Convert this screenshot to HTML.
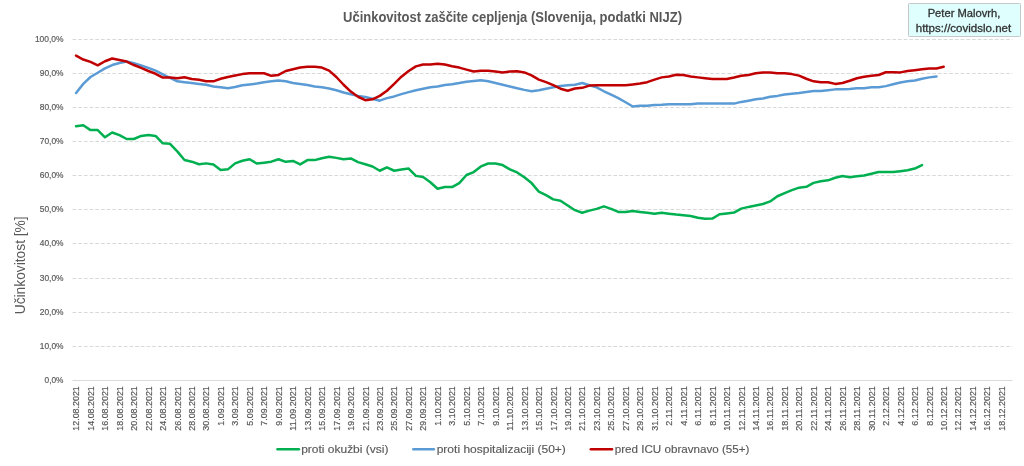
<!DOCTYPE html><html><head><meta charset="utf-8"><style>html,body{margin:0;padding:0;background:#fff;width:1024px;height:466px;overflow:hidden}svg{display:block;will-change:transform}text{font-family:"Liberation Sans",sans-serif}</style></head><body>
<svg width="1024" height="466" viewBox="0 0 1024 466">
<rect width="1024" height="466" fill="#fff"/>
<line x1="72.5" y1="39.5" x2="1012.5" y2="39.5" stroke="#d9d9d9" stroke-width="1" stroke-dasharray="3.75 1.943"/>
<line x1="72.5" y1="73.5" x2="1012.5" y2="73.5" stroke="#d9d9d9" stroke-width="1" stroke-dasharray="3.75 1.943"/>
<line x1="72.5" y1="107.5" x2="1012.5" y2="107.5" stroke="#d9d9d9" stroke-width="1" stroke-dasharray="3.75 1.943"/>
<line x1="72.5" y1="141.5" x2="1012.5" y2="141.5" stroke="#d9d9d9" stroke-width="1" stroke-dasharray="3.75 1.943"/>
<line x1="72.5" y1="175.5" x2="1012.5" y2="175.5" stroke="#d9d9d9" stroke-width="1" stroke-dasharray="3.75 1.943"/>
<line x1="72.5" y1="209.5" x2="1012.5" y2="209.5" stroke="#d9d9d9" stroke-width="1" stroke-dasharray="3.75 1.943"/>
<line x1="72.5" y1="243.5" x2="1012.5" y2="243.5" stroke="#d9d9d9" stroke-width="1" stroke-dasharray="3.75 1.943"/>
<line x1="72.5" y1="278.5" x2="1012.5" y2="278.5" stroke="#d9d9d9" stroke-width="1" stroke-dasharray="3.75 1.943"/>
<line x1="72.5" y1="312.5" x2="1012.5" y2="312.5" stroke="#d9d9d9" stroke-width="1" stroke-dasharray="3.75 1.943"/>
<line x1="72.5" y1="346.5" x2="1012.5" y2="346.5" stroke="#d9d9d9" stroke-width="1" stroke-dasharray="3.75 1.943"/>
<line x1="72.5" y1="380.5" x2="1012.5" y2="380.5" stroke="#d9d9d9" stroke-width="1"/>
<text x="63.5" y="383.1" font-size="9.7" fill="#595959" stroke="#595959" stroke-width="0.2" text-anchor="end" textLength="18.90" lengthAdjust="spacingAndGlyphs">0,0%</text>
<text x="63.5" y="349.1" font-size="9.7" fill="#595959" stroke="#595959" stroke-width="0.2" text-anchor="end" textLength="23.74" lengthAdjust="spacingAndGlyphs">10,0%</text>
<text x="63.5" y="315.1" font-size="9.7" fill="#595959" stroke="#595959" stroke-width="0.2" text-anchor="end" textLength="23.74" lengthAdjust="spacingAndGlyphs">20,0%</text>
<text x="63.5" y="281.1" font-size="9.7" fill="#595959" stroke="#595959" stroke-width="0.2" text-anchor="end" textLength="23.74" lengthAdjust="spacingAndGlyphs">30,0%</text>
<text x="63.5" y="246.1" font-size="9.7" fill="#595959" stroke="#595959" stroke-width="0.2" text-anchor="end" textLength="23.74" lengthAdjust="spacingAndGlyphs">40,0%</text>
<text x="63.5" y="212.1" font-size="9.7" fill="#595959" stroke="#595959" stroke-width="0.2" text-anchor="end" textLength="23.74" lengthAdjust="spacingAndGlyphs">50,0%</text>
<text x="63.5" y="178.1" font-size="9.7" fill="#595959" stroke="#595959" stroke-width="0.2" text-anchor="end" textLength="23.74" lengthAdjust="spacingAndGlyphs">60,0%</text>
<text x="63.5" y="144.1" font-size="9.7" fill="#595959" stroke="#595959" stroke-width="0.2" text-anchor="end" textLength="23.74" lengthAdjust="spacingAndGlyphs">70,0%</text>
<text x="63.5" y="110.1" font-size="9.7" fill="#595959" stroke="#595959" stroke-width="0.2" text-anchor="end" textLength="23.74" lengthAdjust="spacingAndGlyphs">80,0%</text>
<text x="63.5" y="76.1" font-size="9.7" fill="#595959" stroke="#595959" stroke-width="0.2" text-anchor="end" textLength="23.74" lengthAdjust="spacingAndGlyphs">90,0%</text>
<text x="63.5" y="42.1" font-size="9.7" fill="#595959" stroke="#595959" stroke-width="0.2" text-anchor="end" textLength="28.58" lengthAdjust="spacingAndGlyphs">100,0%</text>
<text transform="translate(79.35,386.2) rotate(-90)" font-size="9.2" fill="#595959" stroke="#595959" stroke-width="0.2" text-anchor="end" textLength="44.5" lengthAdjust="spacingAndGlyphs">12.08.2021</text>
<text transform="translate(93.81,386.2) rotate(-90)" font-size="9.2" fill="#595959" stroke="#595959" stroke-width="0.2" text-anchor="end" textLength="44.5" lengthAdjust="spacingAndGlyphs">14.08.2021</text>
<text transform="translate(108.27,386.2) rotate(-90)" font-size="9.2" fill="#595959" stroke="#595959" stroke-width="0.2" text-anchor="end" textLength="44.5" lengthAdjust="spacingAndGlyphs">16.08.2021</text>
<text transform="translate(122.73,386.2) rotate(-90)" font-size="9.2" fill="#595959" stroke="#595959" stroke-width="0.2" text-anchor="end" textLength="44.5" lengthAdjust="spacingAndGlyphs">18.08.2021</text>
<text transform="translate(137.19,386.2) rotate(-90)" font-size="9.2" fill="#595959" stroke="#595959" stroke-width="0.2" text-anchor="end" textLength="44.5" lengthAdjust="spacingAndGlyphs">20.08.2021</text>
<text transform="translate(151.65,386.2) rotate(-90)" font-size="9.2" fill="#595959" stroke="#595959" stroke-width="0.2" text-anchor="end" textLength="44.5" lengthAdjust="spacingAndGlyphs">22.08.2021</text>
<text transform="translate(166.11,386.2) rotate(-90)" font-size="9.2" fill="#595959" stroke="#595959" stroke-width="0.2" text-anchor="end" textLength="44.5" lengthAdjust="spacingAndGlyphs">24.08.2021</text>
<text transform="translate(180.57,386.2) rotate(-90)" font-size="9.2" fill="#595959" stroke="#595959" stroke-width="0.2" text-anchor="end" textLength="44.5" lengthAdjust="spacingAndGlyphs">26.08.2021</text>
<text transform="translate(195.03,386.2) rotate(-90)" font-size="9.2" fill="#595959" stroke="#595959" stroke-width="0.2" text-anchor="end" textLength="44.5" lengthAdjust="spacingAndGlyphs">28.08.2021</text>
<text transform="translate(209.49,386.2) rotate(-90)" font-size="9.2" fill="#595959" stroke="#595959" stroke-width="0.2" text-anchor="end" textLength="44.5" lengthAdjust="spacingAndGlyphs">30.08.2021</text>
<text transform="translate(223.96,386.2) rotate(-90)" font-size="9.2" fill="#595959" stroke="#595959" stroke-width="0.2" text-anchor="end" textLength="39.5" lengthAdjust="spacingAndGlyphs">1.09.2021</text>
<text transform="translate(238.42,386.2) rotate(-90)" font-size="9.2" fill="#595959" stroke="#595959" stroke-width="0.2" text-anchor="end" textLength="39.5" lengthAdjust="spacingAndGlyphs">3.09.2021</text>
<text transform="translate(252.88,386.2) rotate(-90)" font-size="9.2" fill="#595959" stroke="#595959" stroke-width="0.2" text-anchor="end" textLength="39.5" lengthAdjust="spacingAndGlyphs">5.09.2021</text>
<text transform="translate(267.34,386.2) rotate(-90)" font-size="9.2" fill="#595959" stroke="#595959" stroke-width="0.2" text-anchor="end" textLength="39.5" lengthAdjust="spacingAndGlyphs">7.09.2021</text>
<text transform="translate(281.80,386.2) rotate(-90)" font-size="9.2" fill="#595959" stroke="#595959" stroke-width="0.2" text-anchor="end" textLength="39.5" lengthAdjust="spacingAndGlyphs">9.09.2021</text>
<text transform="translate(296.26,386.2) rotate(-90)" font-size="9.2" fill="#595959" stroke="#595959" stroke-width="0.2" text-anchor="end" textLength="44.5" lengthAdjust="spacingAndGlyphs">11.09.2021</text>
<text transform="translate(310.72,386.2) rotate(-90)" font-size="9.2" fill="#595959" stroke="#595959" stroke-width="0.2" text-anchor="end" textLength="44.5" lengthAdjust="spacingAndGlyphs">13.09.2021</text>
<text transform="translate(325.18,386.2) rotate(-90)" font-size="9.2" fill="#595959" stroke="#595959" stroke-width="0.2" text-anchor="end" textLength="44.5" lengthAdjust="spacingAndGlyphs">15.09.2021</text>
<text transform="translate(339.64,386.2) rotate(-90)" font-size="9.2" fill="#595959" stroke="#595959" stroke-width="0.2" text-anchor="end" textLength="44.5" lengthAdjust="spacingAndGlyphs">17.09.2021</text>
<text transform="translate(354.10,386.2) rotate(-90)" font-size="9.2" fill="#595959" stroke="#595959" stroke-width="0.2" text-anchor="end" textLength="44.5" lengthAdjust="spacingAndGlyphs">19.09.2021</text>
<text transform="translate(368.57,386.2) rotate(-90)" font-size="9.2" fill="#595959" stroke="#595959" stroke-width="0.2" text-anchor="end" textLength="44.5" lengthAdjust="spacingAndGlyphs">21.09.2021</text>
<text transform="translate(383.03,386.2) rotate(-90)" font-size="9.2" fill="#595959" stroke="#595959" stroke-width="0.2" text-anchor="end" textLength="44.5" lengthAdjust="spacingAndGlyphs">23.09.2021</text>
<text transform="translate(397.49,386.2) rotate(-90)" font-size="9.2" fill="#595959" stroke="#595959" stroke-width="0.2" text-anchor="end" textLength="44.5" lengthAdjust="spacingAndGlyphs">25.09.2021</text>
<text transform="translate(411.95,386.2) rotate(-90)" font-size="9.2" fill="#595959" stroke="#595959" stroke-width="0.2" text-anchor="end" textLength="44.5" lengthAdjust="spacingAndGlyphs">27.09.2021</text>
<text transform="translate(426.41,386.2) rotate(-90)" font-size="9.2" fill="#595959" stroke="#595959" stroke-width="0.2" text-anchor="end" textLength="44.5" lengthAdjust="spacingAndGlyphs">29.09.2021</text>
<text transform="translate(440.87,386.2) rotate(-90)" font-size="9.2" fill="#595959" stroke="#595959" stroke-width="0.2" text-anchor="end" textLength="39.5" lengthAdjust="spacingAndGlyphs">1.10.2021</text>
<text transform="translate(455.33,386.2) rotate(-90)" font-size="9.2" fill="#595959" stroke="#595959" stroke-width="0.2" text-anchor="end" textLength="39.5" lengthAdjust="spacingAndGlyphs">3.10.2021</text>
<text transform="translate(469.79,386.2) rotate(-90)" font-size="9.2" fill="#595959" stroke="#595959" stroke-width="0.2" text-anchor="end" textLength="39.5" lengthAdjust="spacingAndGlyphs">5.10.2021</text>
<text transform="translate(484.25,386.2) rotate(-90)" font-size="9.2" fill="#595959" stroke="#595959" stroke-width="0.2" text-anchor="end" textLength="39.5" lengthAdjust="spacingAndGlyphs">7.10.2021</text>
<text transform="translate(498.71,386.2) rotate(-90)" font-size="9.2" fill="#595959" stroke="#595959" stroke-width="0.2" text-anchor="end" textLength="39.5" lengthAdjust="spacingAndGlyphs">9.10.2021</text>
<text transform="translate(513.18,386.2) rotate(-90)" font-size="9.2" fill="#595959" stroke="#595959" stroke-width="0.2" text-anchor="end" textLength="44.5" lengthAdjust="spacingAndGlyphs">11.10.2021</text>
<text transform="translate(527.64,386.2) rotate(-90)" font-size="9.2" fill="#595959" stroke="#595959" stroke-width="0.2" text-anchor="end" textLength="44.5" lengthAdjust="spacingAndGlyphs">13.10.2021</text>
<text transform="translate(542.10,386.2) rotate(-90)" font-size="9.2" fill="#595959" stroke="#595959" stroke-width="0.2" text-anchor="end" textLength="44.5" lengthAdjust="spacingAndGlyphs">15.10.2021</text>
<text transform="translate(556.56,386.2) rotate(-90)" font-size="9.2" fill="#595959" stroke="#595959" stroke-width="0.2" text-anchor="end" textLength="44.5" lengthAdjust="spacingAndGlyphs">17.10.2021</text>
<text transform="translate(571.02,386.2) rotate(-90)" font-size="9.2" fill="#595959" stroke="#595959" stroke-width="0.2" text-anchor="end" textLength="44.5" lengthAdjust="spacingAndGlyphs">19.10.2021</text>
<text transform="translate(585.48,386.2) rotate(-90)" font-size="9.2" fill="#595959" stroke="#595959" stroke-width="0.2" text-anchor="end" textLength="44.5" lengthAdjust="spacingAndGlyphs">21.10.2021</text>
<text transform="translate(599.94,386.2) rotate(-90)" font-size="9.2" fill="#595959" stroke="#595959" stroke-width="0.2" text-anchor="end" textLength="44.5" lengthAdjust="spacingAndGlyphs">23.10.2021</text>
<text transform="translate(614.40,386.2) rotate(-90)" font-size="9.2" fill="#595959" stroke="#595959" stroke-width="0.2" text-anchor="end" textLength="44.5" lengthAdjust="spacingAndGlyphs">25.10.2021</text>
<text transform="translate(628.86,386.2) rotate(-90)" font-size="9.2" fill="#595959" stroke="#595959" stroke-width="0.2" text-anchor="end" textLength="44.5" lengthAdjust="spacingAndGlyphs">27.10.2021</text>
<text transform="translate(643.32,386.2) rotate(-90)" font-size="9.2" fill="#595959" stroke="#595959" stroke-width="0.2" text-anchor="end" textLength="44.5" lengthAdjust="spacingAndGlyphs">29.10.2021</text>
<text transform="translate(657.79,386.2) rotate(-90)" font-size="9.2" fill="#595959" stroke="#595959" stroke-width="0.2" text-anchor="end" textLength="44.5" lengthAdjust="spacingAndGlyphs">31.10.2021</text>
<text transform="translate(672.25,386.2) rotate(-90)" font-size="9.2" fill="#595959" stroke="#595959" stroke-width="0.2" text-anchor="end" textLength="39.5" lengthAdjust="spacingAndGlyphs">2.11.2021</text>
<text transform="translate(686.71,386.2) rotate(-90)" font-size="9.2" fill="#595959" stroke="#595959" stroke-width="0.2" text-anchor="end" textLength="39.5" lengthAdjust="spacingAndGlyphs">4.11.2021</text>
<text transform="translate(701.17,386.2) rotate(-90)" font-size="9.2" fill="#595959" stroke="#595959" stroke-width="0.2" text-anchor="end" textLength="39.5" lengthAdjust="spacingAndGlyphs">6.11.2021</text>
<text transform="translate(715.63,386.2) rotate(-90)" font-size="9.2" fill="#595959" stroke="#595959" stroke-width="0.2" text-anchor="end" textLength="39.5" lengthAdjust="spacingAndGlyphs">8.11.2021</text>
<text transform="translate(730.09,386.2) rotate(-90)" font-size="9.2" fill="#595959" stroke="#595959" stroke-width="0.2" text-anchor="end" textLength="44.5" lengthAdjust="spacingAndGlyphs">10.11.2021</text>
<text transform="translate(744.55,386.2) rotate(-90)" font-size="9.2" fill="#595959" stroke="#595959" stroke-width="0.2" text-anchor="end" textLength="44.5" lengthAdjust="spacingAndGlyphs">12.11.2021</text>
<text transform="translate(759.01,386.2) rotate(-90)" font-size="9.2" fill="#595959" stroke="#595959" stroke-width="0.2" text-anchor="end" textLength="44.5" lengthAdjust="spacingAndGlyphs">14.11.2021</text>
<text transform="translate(773.47,386.2) rotate(-90)" font-size="9.2" fill="#595959" stroke="#595959" stroke-width="0.2" text-anchor="end" textLength="44.5" lengthAdjust="spacingAndGlyphs">16.11.2021</text>
<text transform="translate(787.93,386.2) rotate(-90)" font-size="9.2" fill="#595959" stroke="#595959" stroke-width="0.2" text-anchor="end" textLength="44.5" lengthAdjust="spacingAndGlyphs">18.11.2021</text>
<text transform="translate(802.40,386.2) rotate(-90)" font-size="9.2" fill="#595959" stroke="#595959" stroke-width="0.2" text-anchor="end" textLength="44.5" lengthAdjust="spacingAndGlyphs">20.11.2021</text>
<text transform="translate(816.86,386.2) rotate(-90)" font-size="9.2" fill="#595959" stroke="#595959" stroke-width="0.2" text-anchor="end" textLength="44.5" lengthAdjust="spacingAndGlyphs">22.11.2021</text>
<text transform="translate(831.32,386.2) rotate(-90)" font-size="9.2" fill="#595959" stroke="#595959" stroke-width="0.2" text-anchor="end" textLength="44.5" lengthAdjust="spacingAndGlyphs">24.11.2021</text>
<text transform="translate(845.78,386.2) rotate(-90)" font-size="9.2" fill="#595959" stroke="#595959" stroke-width="0.2" text-anchor="end" textLength="44.5" lengthAdjust="spacingAndGlyphs">26.11.2021</text>
<text transform="translate(860.24,386.2) rotate(-90)" font-size="9.2" fill="#595959" stroke="#595959" stroke-width="0.2" text-anchor="end" textLength="44.5" lengthAdjust="spacingAndGlyphs">28.11.2021</text>
<text transform="translate(874.70,386.2) rotate(-90)" font-size="9.2" fill="#595959" stroke="#595959" stroke-width="0.2" text-anchor="end" textLength="44.5" lengthAdjust="spacingAndGlyphs">30.11.2021</text>
<text transform="translate(889.16,386.2) rotate(-90)" font-size="9.2" fill="#595959" stroke="#595959" stroke-width="0.2" text-anchor="end" textLength="39.5" lengthAdjust="spacingAndGlyphs">2.12.2021</text>
<text transform="translate(903.62,386.2) rotate(-90)" font-size="9.2" fill="#595959" stroke="#595959" stroke-width="0.2" text-anchor="end" textLength="39.5" lengthAdjust="spacingAndGlyphs">4.12.2021</text>
<text transform="translate(918.08,386.2) rotate(-90)" font-size="9.2" fill="#595959" stroke="#595959" stroke-width="0.2" text-anchor="end" textLength="39.5" lengthAdjust="spacingAndGlyphs">6.12.2021</text>
<text transform="translate(932.54,386.2) rotate(-90)" font-size="9.2" fill="#595959" stroke="#595959" stroke-width="0.2" text-anchor="end" textLength="39.5" lengthAdjust="spacingAndGlyphs">8.12.2021</text>
<text transform="translate(947.01,386.2) rotate(-90)" font-size="9.2" fill="#595959" stroke="#595959" stroke-width="0.2" text-anchor="end" textLength="44.5" lengthAdjust="spacingAndGlyphs">10.12.2021</text>
<text transform="translate(961.47,386.2) rotate(-90)" font-size="9.2" fill="#595959" stroke="#595959" stroke-width="0.2" text-anchor="end" textLength="44.5" lengthAdjust="spacingAndGlyphs">12.12.2021</text>
<text transform="translate(975.93,386.2) rotate(-90)" font-size="9.2" fill="#595959" stroke="#595959" stroke-width="0.2" text-anchor="end" textLength="44.5" lengthAdjust="spacingAndGlyphs">14.12.2021</text>
<text transform="translate(990.39,386.2) rotate(-90)" font-size="9.2" fill="#595959" stroke="#595959" stroke-width="0.2" text-anchor="end" textLength="44.5" lengthAdjust="spacingAndGlyphs">16.12.2021</text>
<text transform="translate(1004.85,386.2) rotate(-90)" font-size="9.2" fill="#595959" stroke="#595959" stroke-width="0.2" text-anchor="end" textLength="44.5" lengthAdjust="spacingAndGlyphs">18.12.2021</text>
<text transform="translate(25.2,265.3) rotate(-90)" font-size="14" fill="#595959" text-anchor="middle" textLength="98" lengthAdjust="spacingAndGlyphs">Učinkovitost [%]</text>
<text x="512.5" y="21.6" font-size="14.4" font-weight="bold" fill="#595959" text-anchor="middle" textLength="339" lengthAdjust="spacingAndGlyphs">Učinkovitost zaščite cepljenja (Slovenija, podatki NIJZ)</text>
<rect x="908.5" y="3.5" width="112" height="33" fill="#dfffff" stroke="#c8c8c8" stroke-width="1" rx="0.8"/>
<text x="964" y="16.7" font-size="10.6" fill="#333333" stroke="#333333" stroke-width="0.3" text-anchor="middle" textLength="72.7" lengthAdjust="spacingAndGlyphs">Peter Malovrh,</text>
<text x="963.5" y="31.7" font-size="10.6" fill="#333333" stroke="#333333" stroke-width="0.3" text-anchor="middle" textLength="95.5" lengthAdjust="spacingAndGlyphs">https://covidslo.net</text>
<polyline points="76.05,126.32 83.28,125.29 90.51,130.09 97.74,130.09 104.97,137.30 112.20,132.50 119.43,135.07 126.66,139.01 133.89,139.01 141.12,135.93 148.35,135.07 155.58,135.93 162.81,143.30 170.04,143.82 177.27,151.36 184.50,159.94 191.73,161.66 198.96,164.23 206.19,163.37 213.42,164.40 220.66,169.89 227.89,169.37 235.12,163.37 242.35,160.80 249.58,159.25 256.81,163.54 264.04,162.68 271.27,161.66 278.50,159.25 285.73,161.83 292.96,160.97 300.19,164.40 307.42,160.11 314.65,160.11 321.88,158.22 329.11,156.68 336.34,157.88 343.57,159.25 350.80,158.40 358.03,162.17 365.27,164.23 372.50,166.46 379.73,170.75 386.96,167.32 394.19,170.75 401.42,169.55 408.65,168.52 415.88,175.89 423.11,177.09 430.34,182.24 437.57,188.76 444.80,187.04 452.03,187.04 459.26,183.08 466.49,175.02 473.72,172.10 480.95,166.44 488.18,163.52 495.41,163.52 502.64,165.07 509.88,169.36 517.11,172.44 524.34,177.25 531.57,183.08 538.80,191.66 546.03,195.09 553.26,199.37 560.49,200.75 567.72,205.55 574.95,210.18 582.18,212.75 589.41,210.60 596.64,208.89 603.87,206.31 611.10,208.89 618.33,211.97 625.56,211.97 632.79,211.11 640.02,211.97 647.25,212.83 654.49,213.69 661.72,212.83 668.95,213.69 676.18,214.55 683.41,215.23 690.64,216.09 697.87,217.80 705.10,218.66 712.33,218.56 719.56,214.27 726.79,213.41 734.02,212.56 741.25,208.61 748.48,206.90 755.71,205.52 762.94,203.98 770.17,201.41 777.40,196.26 784.63,193.17 791.86,190.09 799.10,187.68 806.33,186.83 813.56,182.88 820.79,181.17 828.02,180.31 835.25,177.74 842.48,175.97 849.71,177.17 856.94,176.31 864.17,175.45 871.40,173.74 878.63,172.02 885.86,172.02 893.09,172.02 900.32,171.17 907.55,170.31 914.78,168.59 922.01,165.16" fill="none" stroke="#00b050" stroke-width="2.5" stroke-linejoin="round" stroke-linecap="round"/>
<polyline points="76.05,92.98 83.28,83.89 90.51,77.02 97.74,72.74 104.97,68.45 112.20,65.02 119.43,62.96 126.66,61.59 133.89,63.30 141.12,65.53 148.35,67.93 155.58,70.68 162.81,74.45 170.04,77.88 177.27,81.31 184.50,82.17 191.73,83.03 198.96,83.89 206.19,84.74 213.42,86.46 220.66,87.32 227.89,88.17 235.12,86.97 242.35,85.26 249.58,84.40 256.81,83.54 264.04,82.17 271.27,81.14 278.50,80.45 285.73,81.31 292.96,83.03 300.19,84.06 307.42,85.09 314.65,86.46 321.88,87.32 329.11,88.52 336.34,90.23 343.57,92.46 350.80,94.18 358.03,95.89 365.27,97.09 372.50,98.81 379.73,100.69 386.96,98.12 394.19,96.41 401.42,94.18 408.65,92.12 415.88,90.23 423.11,88.69 430.34,87.32 437.57,86.46 444.80,85.09 452.03,84.23 459.26,83.03 466.49,81.66 473.72,80.97 480.95,80.28 488.18,81.31 495.41,83.03 502.64,84.74 509.88,86.46 517.11,88.17 524.34,89.89 531.57,91.26 538.80,90.23 546.03,88.69 553.26,87.32 560.49,85.94 567.72,85.26 574.95,84.74 582.18,83.03 589.41,85.26 596.64,87.32 603.87,91.26 611.10,94.69 618.33,98.12 625.56,102.24 632.79,106.53 640.02,105.67 647.25,105.67 654.49,104.98 661.72,104.81 668.95,104.30 676.18,104.30 683.41,104.30 690.64,104.30 697.87,103.61 705.10,103.61 712.33,103.61 719.56,103.61 726.79,103.61 734.02,103.61 741.25,101.90 748.48,100.69 755.71,99.32 762.94,98.46 770.17,96.75 777.40,95.89 784.63,94.52 791.86,93.83 799.10,92.98 806.33,91.95 813.56,91.09 820.79,91.09 828.02,90.23 835.25,89.37 842.48,89.37 849.71,89.03 856.94,88.17 864.17,88.17 871.40,87.32 878.63,87.32 885.86,86.11 893.09,84.23 900.32,82.51 907.55,81.31 914.78,80.45 922.01,78.74 929.24,77.37 936.47,76.51" fill="none" stroke="#5b9bd5" stroke-width="2.5" stroke-linejoin="round" stroke-linecap="round"/>
<polyline points="76.05,55.58 83.28,59.53 90.51,61.93 97.74,65.36 104.97,61.24 112.20,58.50 119.43,60.04 126.66,61.59 133.89,65.02 141.12,67.93 148.35,71.02 155.58,73.77 162.81,77.54 170.04,77.54 177.27,78.22 184.50,77.20 191.73,78.91 198.96,79.77 206.19,81.31 213.42,81.31 220.66,78.74 227.89,77.02 235.12,75.48 242.35,74.11 249.58,73.25 256.81,73.25 264.04,73.25 271.27,75.82 278.50,74.97 285.73,71.02 292.96,69.31 300.19,67.59 307.42,66.73 314.65,66.73 321.88,67.59 329.11,70.68 336.34,77.02 343.57,84.74 350.80,91.60 358.03,96.75 365.27,100.18 372.50,99.32 379.73,95.89 386.96,90.75 394.19,83.89 401.42,76.68 408.65,71.02 415.88,66.39 423.11,64.50 430.34,64.50 437.57,63.64 444.80,64.50 452.03,66.22 459.26,67.59 466.49,69.65 473.72,71.54 480.95,70.68 488.18,70.68 495.41,71.54 502.64,72.39 509.88,71.54 517.11,71.36 524.34,72.39 531.57,75.31 538.80,79.60 546.03,82.17 553.26,85.09 560.49,88.69 567.72,90.75 574.95,88.52 582.18,87.83 589.41,85.60 596.64,85.26 603.87,85.26 611.10,85.26 618.33,85.26 625.56,85.26 632.79,84.40 640.02,83.54 647.25,82.17 654.49,79.60 661.72,77.37 668.95,76.51 676.18,74.79 683.41,74.97 690.64,76.51 697.87,77.37 705.10,78.22 712.33,79.08 719.56,79.08 726.79,79.08 734.02,77.54 741.25,75.82 748.48,74.97 755.71,73.25 762.94,72.39 770.17,72.39 777.40,73.25 784.63,73.25 791.86,74.11 799.10,75.65 806.33,78.74 813.56,81.31 820.79,82.17 828.02,82.17 835.25,83.89 842.48,83.03 849.71,80.80 856.94,78.22 864.17,76.68 871.40,75.82 878.63,74.97 885.86,72.22 893.09,72.22 900.32,72.39 907.55,71.02 914.78,70.16 922.01,69.31 929.24,68.45 936.47,68.45 943.71,66.73" fill="none" stroke="#c00000" stroke-width="2.5" stroke-linejoin="round" stroke-linecap="round"/>
<line x1="277.5" y1="449.35" x2="298.9" y2="449.35" stroke="#00b050" stroke-width="2.5" stroke-linecap="round"/>
<text x="301.2" y="453.1" font-size="11.6" fill="#595959" stroke="#595959" stroke-width="0.15" textLength="87.2" lengthAdjust="spacingAndGlyphs">proti okužbi (vsi)</text>
<line x1="413.3" y1="449.35" x2="433.9" y2="449.35" stroke="#5b9bd5" stroke-width="2.5" stroke-linecap="round"/>
<text x="436.7" y="453.1" font-size="11.6" fill="#595959" stroke="#595959" stroke-width="0.15" textLength="129.2" lengthAdjust="spacingAndGlyphs">proti hospitalizaciji (50+)</text>
<line x1="590.8" y1="449.35" x2="612.0" y2="449.35" stroke="#c00000" stroke-width="2.5" stroke-linecap="round"/>
<text x="614.7" y="453.1" font-size="11.6" fill="#595959" stroke="#595959" stroke-width="0.15" textLength="134.8" lengthAdjust="spacingAndGlyphs">pred ICU obravnavo (55+)</text>
</svg></body></html>
